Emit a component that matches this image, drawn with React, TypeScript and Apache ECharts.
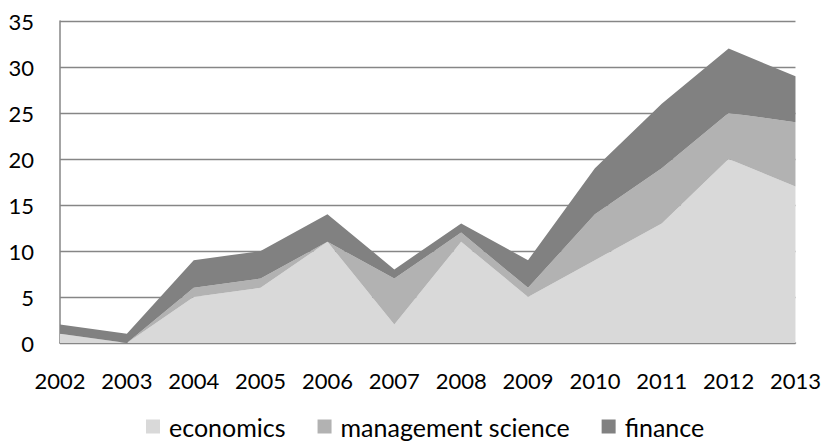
import React, { useEffect, useRef } from "react";
import * as echarts from "echarts";

const years = ["2002", "2003", "2004", "2005", "2006", "2007", "2008", "2009", "2010", "2011", "2012", "2013"];
const economics = [1, 0, 5, 6, 11, 2, 11, 5, 9, 13, 20, 17];
const managementScience = [0, 0, 1, 1, 0, 5, 1, 1, 5, 6, 5, 7];
const finance = [1, 1, 3, 3, 3, 1, 1, 3, 5, 7, 7, 5];

const FONT = "Lato";

export default function App() {
  const ref = useRef<HTMLDivElement>(null);
  useEffect(() => {
    if (!ref.current) return;
    const chart = echarts.init(ref.current, null, { renderer: "svg" });
    const mk = (name: string, data: number[], color: string) => ({
      name,
      type: "line",
      stack: "total",
      data,
      showSymbol: false,
      symbol: "none",
      lineStyle: { width: 0, color },
      itemStyle: { color },
      areaStyle: { color, opacity: 1 },
    });
    chart.setOption({
      animation: false,
      textStyle: { fontFamily: FONT },
      grid: { left: 60, right: 28, top: 21, bottom: 100, containLabel: false },
      legend: {
        top: 414,
        left: 146,
        padding: 0,
        icon: "rect",
        itemWidth: 14,
        itemHeight: 14,
        itemGap: 32,
        textStyle: { fontFamily: FONT, fontSize: 25, color: "#000", padding: [0, 0, 0, 4] },
        data: ["economics", "management science", "finance"],
      },
      xAxis: {
        type: "category",
        data: years,
        boundaryGap: false,
        axisLine: { show: true, lineStyle: { color: "#868686", width: 1.5 } },
        axisTick: { show: false },
        axisLabel: { fontFamily: FONT, fontSize: 22, color: "#000", margin: 26 },
        splitLine: { show: false },
      },
      yAxis: {
        type: "value",
        min: 0,
        max: 35,
        interval: 5,
        axisLine: { show: true, lineStyle: { color: "#868686", width: 1.5 } },
        axisTick: { show: false },
        axisLabel: { fontFamily: FONT, fontSize: 22, color: "#000", margin: 26 },
        splitLine: { show: true, lineStyle: { color: "#868686", width: 1.3 } },
      },
      series: [
        mk("economics", economics, "#d9d9d9"),
        mk("management science", managementScience, "#b2b2b2"),
        mk("finance", finance, "#818181"),
      ],
    });
    return () => chart.dispose();
  }, []);
  return (
    <div
      ref={ref}
      style={{ position: "fixed", left: 0, top: 0, width: 824, height: 443, background: "#fff" }}
    />
  );
}
